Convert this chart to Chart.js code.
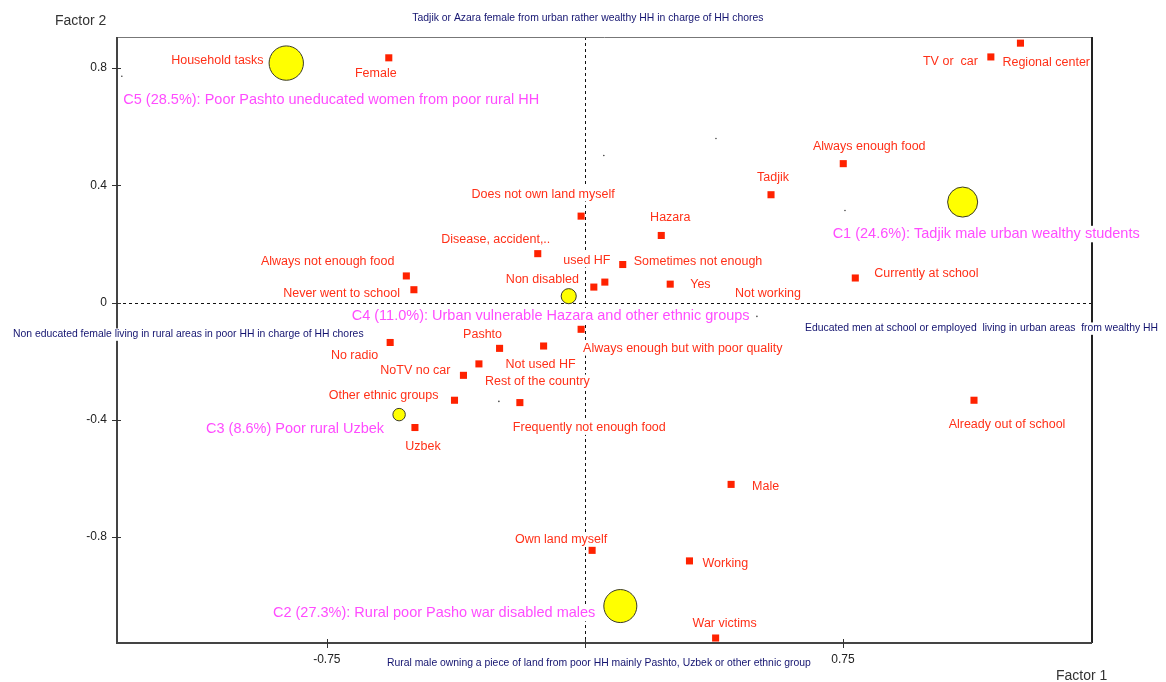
<!DOCTYPE html>
<html>
<head>
<meta charset="utf-8">
<script src="https://cdn.jsdelivr.net/npm/chart.js@4.4.1/dist/chart.umd.min.js"></script>
<style>
  body { margin: 0; background: #fff; }
  canvas { display: block; }
</style>
</head>
<body>
<canvas id="factorChart" width="1166" height="682"></canvas>
<script>
// modalities (red squares)
const categories = [
    'Household tasks', 'Female', 'TV or  car', 'Regional center', 'Always enough food',
    'Tadjik', 'Hazara', 'Does not own land myself', 'Disease, accident,..', 'Sometimes not enough',
    'used HF', 'Non disabled', 'Yes', 'Currently at school', 'Always not enough food',
    'Never went to school', 'Always enough but with poor quality', 'No radio', 'Pashto', 'Not used HF',
    'Rest of the country', 'NoTV no car', 'Other ethnic groups', 'Frequently not enough food', 'Uzbek',
    'Already out of school', 'Male', 'Own land myself', 'Working', 'War victims'
];
const factor1 = [
    -0.87, -0.570, 1.180, 1.266, 0.751,
    0.541, 0.222, -0.011, -0.137, 0.110,
    0.058, 0.026, 0.248, 0.786, -0.519,
    -0.497, -0.011, -0.566, -0.248, -0.120,
    -0.308, -0.353, -0.379, -0.189, -0.494,
    1.131, 0.425, 0.021, 0.304, 0.380
];
const factor2 = [
    0.82, 0.835, 0.838, 0.885, 0.474,
    0.368, 0.229, 0.295, 0.167, 0.130,
    0.070, 0.053, 0.063, 0.084, 0.091,
    0.044, -0.091, -0.136, -0.156, -0.148,
    -0.209, -0.248, -0.333, -0.341, -0.426,
    -0.333, -0.620, -0.845, -0.881, -1.144
];

// cluster centres (yellow circles)
const clusterLabels = [
    'C1 (24.6%): Tadjik male urban wealthy students',
    'C2 (27.3%): Rural poor Pasho war disabled males',
    'C3 (8.6%) Poor rural Uzbek',
    'C4 (11.0%): Urban vulnerable Hazara and other ethnic groups',
    'C5 (28.5%): Poor Pashto uneducated women from poor rural HH'
];
const clusterShare = [24.6, 27.3, 8.6, 11.0, 28.5];
const clusterF1 = [1.098, 0.103, -0.540, -0.047, -0.868];
const clusterF2 = [0.343, -1.035, -0.382, 0.022, 0.817];

// tiny dots
const minorNames = ['', '', '', '', '', 'Not working'];
const minorF1 = [-1.346, 0.055, 0.381, 0.756, -0.250, 0.500];
const minorF2 = [0.772, 0.502, 0.560, 0.314, -0.337, -0.047];

const xTicks = [-0.75, 0, 0.75];
const yTicks = [-0.8, -0.4, 0, 0.4, 0.8];

const axisNotes = {
    top: 'Tadjik or Azara female from urban rather wealthy HH in charge of HH chores',
    bottom: 'Rural male owning a piece of land from poor HH mainly Pashto, Uzbek or other ethnic group',
    left: 'Non educated female living in rural areas in poor HH in charge of HH chores',
    right: 'Educated men at school or employed  living in urban areas  from wealthy HH'
};

// where each label sits, in pixels from its point: [dx, dy, align]
const labelAt = {
    'Household tasks': [-22, -2, 'right'],
    'Female': [-13, 16, 'center'],
    'TV or  car': [-13, 5, 'right'],
    'Regional center': [-18, 19, 'left'],
    'Always enough food': [26, -17, 'center'],
    'Tadjik': [2, -17, 'center'],
    'Hazara': [9, -18, 'center'],
    'Does not own land myself': [-38, -22, 'center'],
    'Disease, accident,..': [-42, -14, 'center'],
    'Sometimes not enough': [11, -3, 'left'],
    'used HF': [-18, -22, 'center'],
    'Non disabled': [-15, -8, 'right'],
    'Yes': [20, 0, 'left'],
    'Currently at school': [19, -4, 'left'],
    'Always not enough food': [-12, -14, 'right'],
    'Never went to school': [-14, 4, 'right'],
    'Always enough but with poor quality': [2, 19, 'left'],
    'No radio': [-12, 13, 'right'],
    'Pashto': [-17, -14, 'center'],
    'Not used HF': [-3, 19, 'center'],
    'Rest of the country': [6, 18, 'left'],
    'NoTV no car': [-13, -5, 'right'],
    'Other ethnic groups': [-16, -5, 'right'],
    'Frequently not enough food': [-7, 25, 'left'],
    'Uzbek': [8, 19, 'center'],
    'Already out of school': [33, 24, 'center'],
    'Male': [21, 2, 'left'],
    'Own land myself': [-31, -11, 'center'],
    'Working': [13, 3, 'left'],
    'War victims': [9, -14, 'center'],
    'Not working': [11, -23, 'center']
};
const clusterLabelAt = [
    [-130, 32, 'left'],
    [-25, 7, 'right'],
    [-15, 14, 'right'],
    [-217, 20, 'left'],
    [-163, 37, 'left']
];

const FONT = '"Liberation Sans", Arial, sans-serif';

function boxedText(ctx, text, x, y, align, color, size) {
    ctx.font = size + 'px ' + FONT;
    const w = ctx.measureText(text).width;
    const left = align === 'left' ? x : (align === 'right' ? x - w : x - w / 2);
    ctx.fillStyle = '#fff';
    ctx.fillRect(left - 1, y - size / 2 - 1, w + 2, size + 2);
    ctx.fillStyle = color;
    ctx.textAlign = align;
    ctx.textBaseline = 'middle';
    ctx.fillText(text, x, y);
}

const mapDecor = {
    id: 'mapDecor',
    beforeDatasetsDraw(chart) {
        const { ctx, chartArea: a, scales: { x, y } } = chart;
        const x0 = x.getPixelForValue(0);
        const y0 = y.getPixelForValue(0);
        ctx.save();
        // dashed origin lines
        ctx.strokeStyle = '#111';
        ctx.lineWidth = 1;
        ctx.setLineDash([3, 3]);
        ctx.beginPath();
        ctx.moveTo(Math.round(x0) + 0.5, a.top);
        ctx.lineTo(Math.round(x0) + 0.5, a.bottom);
        ctx.moveTo(a.left, Math.round(y0) + 0.5);
        ctx.lineTo(a.right, Math.round(y0) + 0.5);
        ctx.stroke();
        ctx.setLineDash([]);
        // frame
        ctx.strokeStyle = '#777';
        ctx.lineWidth = 1;
        ctx.beginPath();
        ctx.moveTo(a.left, a.top + 0.5);
        ctx.lineTo(a.right, a.top + 0.5);
        ctx.stroke();
        ctx.strokeStyle = '#222';
        ctx.lineWidth = 2;
        ctx.beginPath();
        ctx.moveTo(a.right, a.top);
        ctx.lineTo(a.right, a.bottom);
        ctx.stroke();
        ctx.strokeStyle = '#444';
        ctx.beginPath();
        ctx.moveTo(a.left, a.top);
        ctx.lineTo(a.left, a.bottom);
        ctx.lineTo(a.right, a.bottom);
        ctx.stroke();
        // ticks crossing the axis lines
        ctx.strokeStyle = '#333';
        ctx.lineWidth = 1;
        ctx.beginPath();
        yTicks.forEach(v => {
            const py = Math.round(y.getPixelForValue(v)) + 0.5;
            ctx.moveTo(a.left - 5, py);
            ctx.lineTo(a.left + 4, py);
        });
        xTicks.forEach(v => {
            const px = Math.round(x.getPixelForValue(v)) + 0.5;
            ctx.moveTo(px, a.bottom - 4);
            ctx.lineTo(px, a.bottom + 5);
        });
        ctx.stroke();

        // axis notes
        const navy = '#141470';
        boxedText(ctx, axisNotes.top, x0 + 3, a.top - 19, 'center', navy, 10.4);
        boxedText(ctx, axisNotes.bottom, x0 + 14, a.bottom + 20, 'center', navy, 10.4);
        boxedText(ctx, axisNotes.left, 13, y0 + 32, 'left', navy, 10.4);
        boxedText(ctx, axisNotes.right, 1158, y0 + 26, 'right', navy, 10.4);

        // axis names
        ctx.font = '14px ' + FONT;
        ctx.fillStyle = '#333';
        ctx.textAlign = 'left';
        ctx.textBaseline = 'middle';
        ctx.fillText('Factor 2', 55, 21);
        ctx.fillText('Factor 1', 1056, 676);

        // modality labels
        categories.forEach((name, i) => {
            const p = labelAt[name] || [8, -10, 'left'];
            const px = x.getPixelForValue(factor1[i]);
            const py = y.getPixelForValue(factor2[i]);
            boxedText(ctx, name, px + p[0], py + p[1], p[2], '#ff3018', 12.5);
        });
        minorNames.forEach((name, i) => {
            if (!name) return;
            const p = labelAt[name];
            const px = x.getPixelForValue(minorF1[i]);
            const py = y.getPixelForValue(minorF2[i]);
            boxedText(ctx, name, px + p[0], py + p[1], p[2], '#ff3018', 12.5);
        });
        // cluster labels
        clusterLabels.forEach((name, i) => {
            const p = clusterLabelAt[i];
            const px = x.getPixelForValue(clusterF1[i]);
            const py = y.getPixelForValue(clusterF2[i]);
            boxedText(ctx, name, px + p[0], py + p[1], p[2], '#ff4cff', 14.5);
        });
        ctx.restore();
    }
};

const ctx = document.getElementById('factorChart');

new Chart(ctx, {
    type: 'scatter',
    data: {
        datasets: [
            {
                label: 'Clusters',
                data: clusterF1.map((v, i) => ({ x: v, y: clusterF2[i] })),
                backgroundColor: '#ffff00',
                borderColor: '#3a3a28',
                borderWidth: 1,
                pointRadius: c => 1.5 + 0.55 * clusterShare[c.dataIndex],
                pointHoverRadius: c => 1.5 + 0.55 * clusterShare[c.dataIndex]
            },
            {
                label: 'Modalities',
                data: factor1.map((v, i) => ({ x: v, y: factor2[i] })),
                pointStyle: 'rect',
                backgroundColor: '#ff2200',
                borderColor: '#ff2200',
                borderWidth: 0,
                pointRadius: 5,
                pointHoverRadius: 5
            },
            {
                label: 'Other',
                data: minorF1.map((v, i) => ({ x: v, y: minorF2[i] })),
                backgroundColor: '#444',
                borderWidth: 0,
                pointRadius: 0.8
            }
        ]
    },
    options: {
        responsive: false,
        animation: false,
        events: [],
        layout: { padding: { top: 37, right: 74, bottom: 0, left: 0 } },
        plugins: {
            legend: { display: false },
            tooltip: { enabled: false }
        },
        scales: {
            x: {
                type: 'linear',
                min: -1.36,
                max: 1.474,
                afterBuildTicks: s => { s.ticks = xTicks.map(v => ({ value: v })); },
                afterFit: s => { s.height = 39; },
                ticks: {
                    autoSkip: false,
                    maxRotation: 0,
                    padding: 3,
                    color: '#222',
                    font: { family: FONT, size: 12 },
                    callback: v => (v === 0 ? '' : String(v))
                },
                grid: { drawOnChartArea: false, drawTicks: true, tickLength: 6, color: 'rgba(0,0,0,0)' },
                border: { display: false }
            },
            y: {
                type: 'linear',
                min: -1.161,
                max: 0.906,
                afterBuildTicks: s => { s.ticks = yTicks.map(v => ({ value: v })); },
                afterFit: s => { s.width = 117; },
                ticks: {
                    autoSkip: false,
                    padding: 4,
                    color: '#222',
                    font: { family: FONT, size: 12 },
                    callback: v => String(v)
                },
                grid: { drawOnChartArea: false, drawTicks: true, tickLength: 6, color: 'rgba(0,0,0,0)' },
                border: { display: false }
            }
        }
    },
    plugins: [mapDecor]
});
</script>
</body>
</html>
